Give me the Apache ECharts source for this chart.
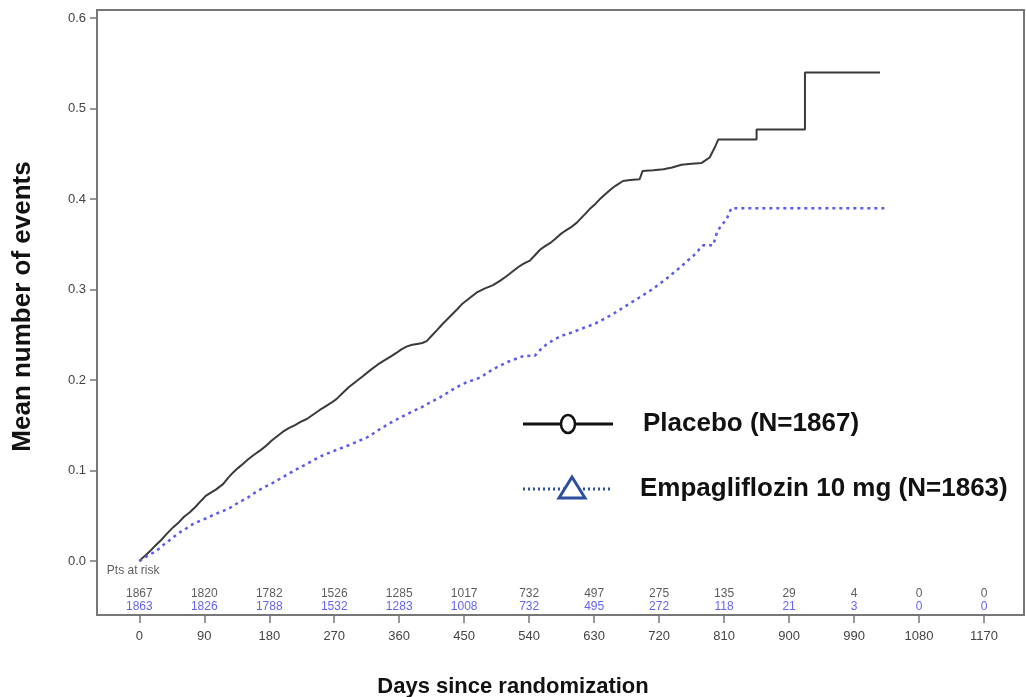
<!DOCTYPE html>
<html>
<head>
<meta charset="utf-8">
<script src="https://cdn.jsdelivr.net/npm/echarts@6/dist/echarts.min.js"></script>
<style>
html, body { margin: 0; padding: 0; background: #fff; }
#main { width: 1026px; height: 697px; }
</style>
</head>
<body>
<div id="main"></div>
<script>
// placebo mean cumulative events (repeated day = vertical jump)
var placeboDays = [0, 8, 15, 22, 30, 38, 47, 55, 62, 70, 78, 86, 92, 98, 106, 116, 123, 130, 137, 143,
    150, 158, 167, 175, 183, 191, 199, 207, 215, 224, 232, 241, 250, 258, 266, 273, 282, 290, 298, 310,
    320, 330, 340, 348, 356, 363, 370, 378, 385, 392, 398, 405, 412, 420, 430, 440, 447, 455, 467, 478,
    490, 500, 509, 517, 525, 533, 541, 548, 555, 562, 570, 576, 583, 590, 598, 606, 612, 618, 625, 632,
    638, 645, 652, 660, 670, 680, 693, 697, 712, 726, 738, 751, 765, 779, 790, 797, 802, 855, 855, 922, 922, 1026];
var placeboMean = [0, 0.006, 0.011, 0.017, 0.023, 0.030, 0.0375, 0.043, 0.049, 0.054, 0.060, 0.067, 0.072, 0.075, 0.079, 0.085, 0.092, 0.098, 0.103, 0.107,
    0.112, 0.117, 0.122, 0.127, 0.133, 0.138, 0.143, 0.147, 0.150, 0.154, 0.157, 0.162, 0.167, 0.171, 0.175, 0.179, 0.186, 0.192, 0.197, 0.2045,
    0.211, 0.217, 0.222, 0.226, 0.230, 0.234, 0.237, 0.239, 0.240, 0.241, 0.243, 0.249, 0.255, 0.262, 0.270, 0.278, 0.284, 0.289, 0.2966, 0.301,
    0.305, 0.310, 0.315, 0.320, 0.325, 0.329, 0.332, 0.338, 0.344, 0.348, 0.352, 0.356, 0.361, 0.365, 0.369, 0.374, 0.379, 0.384, 0.390, 0.395,
    0.400, 0.405, 0.410, 0.415, 0.420, 0.421, 0.422, 0.431, 0.432, 0.433, 0.435, 0.438, 0.439, 0.440, 0.446, 0.457, 0.466, 0.466, 0.477, 0.477, 0.540, 0.540];

// empagliflozin mean cumulative events
var empaDays = [0, 12, 24, 32, 40, 48, 56, 63, 70, 77, 84, 95, 105, 115, 126, 138, 150, 161, 172, 184,
    195, 206, 218, 229, 240, 252, 264, 277, 290, 302, 315, 324, 333, 346, 360, 370, 380, 391, 402, 416,
    425, 435, 446, 458, 467, 475, 482, 490, 500, 510, 520, 532, 548, 556, 564, 575, 585, 597, 610, 620,
    629, 638, 647, 658, 670, 680, 692, 703, 712, 720, 730, 740, 750, 758, 767, 774, 781, 795, 800, 806,
    813, 820, 1037];
var empaMean = [0, 0.006, 0.0114, 0.017, 0.022, 0.027, 0.0317, 0.035, 0.039, 0.042, 0.0445, 0.048, 0.052, 0.055, 0.059, 0.065, 0.070, 0.076, 0.0813, 0.086,
    0.091, 0.096, 0.1015, 0.106, 0.111, 0.116, 0.120, 0.124, 0.128, 0.132, 0.1365, 0.141, 0.1457, 0.152, 0.158, 0.162, 0.166, 0.170, 0.175, 0.1807,
    0.185, 0.190, 0.195, 0.199, 0.201, 0.204, 0.208, 0.212, 0.216, 0.220, 0.223, 0.2266, 0.227, 0.234, 0.2395, 0.245, 0.249, 0.252, 0.256, 0.259,
    0.2616, 0.265, 0.269, 0.274, 0.280, 0.285, 0.291, 0.2966, 0.301, 0.306, 0.312, 0.3187, 0.325, 0.331, 0.337, 0.343, 0.349, 0.349, 0.363, 0.371,
    0.377, 0.390, 0.390];

// patients at risk table
var riskDays = [0, 90, 180, 270, 360, 450, 540, 630, 720, 810, 900, 990, 1080, 1170];
var placeboRisk = [1867, 1820, 1782, 1526, 1285, 1017, 732, 497, 275, 135, 29, 4, 0, 0];
var empaRisk = [1863, 1826, 1788, 1532, 1283, 1008, 732, 495, 272, 118, 21, 3, 0, 0];

var yTicks = [0, 0.1, 0.2, 0.3, 0.4, 0.5, 0.6];

var placeboName = 'Placebo (N=1867)';
var empaName = 'Empagliflozin 10 mg (N=1863)';
var font = 'Liberation Sans, Arial, sans-serif';
var empaLegendColor = '#2d4fa0';

function zip(xs, ys) {
    var out = [];
    for (var i = 0; i < xs.length; i++) out.push([xs[i], ys[i]]);
    return out;
}

function riskRow(counts, yPos) {
    var out = [];
    for (var i = 0; i < riskDays.length; i++) out.push([riskDays[i], yPos, counts[i]]);
    return out;
}

var chart = echarts.init(document.getElementById('main'));

var option = {
    animation: false,
    title: {
        text: 'Days since randomization',
        left: 'center',
        top: 671,
        textStyle: { fontFamily: font, fontSize: 22, fontWeight: 'bold', color: '#111' }
    },
    // legend drawn by hand (line + marker + text)
    graphic: [
        { type: 'line', shape: { x1: 523, y1: 424, x2: 613, y2: 424 }, style: { stroke: '#111', lineWidth: 3 } },
        { type: 'ellipse', shape: { cx: 568, cy: 424, rx: 7, ry: 9 }, style: { fill: '#fff', stroke: '#111', lineWidth: 2.5 } },
        { type: 'text', x: 643, y: 424, style: { text: placeboName, fill: '#111', font: 'bold 26px ' + font, verticalAlign: 'middle' } },
        { type: 'line', shape: { x1: 523, y1: 489, x2: 613, y2: 489 }, style: { stroke: empaLegendColor, lineWidth: 3, lineDash: [2, 3] } },
        { type: 'polygon', shape: { points: [[572, 477], [559, 498], [585, 498]] }, style: { fill: '#fff', stroke: empaLegendColor, lineWidth: 3 } },
        { type: 'text', x: 640, y: 489, style: { text: empaName, fill: '#111', font: 'bold 26px ' + font, verticalAlign: 'middle' } }
    ],
    grid: {
        left: 97, right: 2, top: 10, bottom: 82,
        show: true, borderColor: '#777', borderWidth: 2
    },
    xAxis: {
        type: 'value',
        min: -58.6,
        max: 1225.4,
        splitLine: { show: false },
        axisLine: { show: true, onZero: false, lineStyle: { color: '#777', width: 2 } },
        axisTick: { show: true, customValues: riskDays, length: 8, lineStyle: { color: '#777', width: 1.5 } },
        axisLabel: {
            customValues: riskDays, margin: 15, color: '#444', fontSize: 13, fontFamily: font,
            formatter: function (v) { return String(v); }
        }
    },
    yAxis: {
        type: 'value',
        min: -0.0596,
        max: 0.609,
        name: 'Mean number of events',
        nameLocation: 'middle',
        nameGap: 61,
        nameTextStyle: { fontFamily: font, fontSize: 26, fontWeight: 'bold', color: '#111', padding: [0, 0, 0, 12] },
        splitLine: { show: false },
        axisLine: { show: true, onZero: false, lineStyle: { color: '#777', width: 2 } },
        axisTick: { show: true, customValues: yTicks, length: 7, lineStyle: { color: '#777', width: 1.5 } },
        axisLabel: {
            customValues: yTicks, margin: 11, color: '#444', fontSize: 13, fontFamily: font,
            formatter: function (v) { return v.toFixed(1); }
        }
    },
    series: [{
        name: placeboName,
        type: 'line',
        showSymbol: false,
        lineStyle: { color: '#3a3a3a', width: 2 },
        itemStyle: { color: '#3a3a3a' },
        data: zip(placeboDays, placeboMean)
    }, {
        name: empaName,
        type: 'line',
        showSymbol: false,
        lineStyle: { color: '#5b5bee', width: 2.5, type: [3, 4] },
        itemStyle: { color: '#5b5bee' },
        data: zip(empaDays, empaMean)
    }, {
        // "Pts at risk" caption
        type: 'scatter',
        symbolSize: 0,
        silent: true,
        label: {
            show: true, position: 'right', distance: 0,
            formatter: 'Pts at risk', color: '#333', fontSize: 12, fontFamily: font
        },
        data: [[-45, -0.011]]
    }, {
        // row markers
        type: 'scatter',
        silent: true,
        data: [
            { value: [-48, -0.0365], symbol: 'emptyCircle', symbolSize: 8, itemStyle: { color: '#fff', borderColor: '#333', borderWidth: 1.3 } },
            { value: [-48, -0.0505], symbol: 'emptyTriangle', symbolSize: 9, itemStyle: { color: '#fff', borderColor: '#4444ee', borderWidth: 1.3 } }
        ]
    }, {
        type: 'scatter',
        symbolSize: 0,
        silent: true,
        label: {
            show: true, position: 'inside', color: '#333', fontSize: 12, fontFamily: font,
            formatter: function (p) { return p.value[2]; }
        },
        data: riskRow(placeboRisk, -0.0365)
    }, {
        type: 'scatter',
        symbolSize: 0,
        silent: true,
        label: {
            show: true, position: 'inside', color: '#3b3bf0', fontSize: 12, fontFamily: font,
            formatter: function (p) { return p.value[2]; }
        },
        data: riskRow(empaRisk, -0.0505)
    }]
};

chart.setOption(option);
</script>
</body>
</html>
